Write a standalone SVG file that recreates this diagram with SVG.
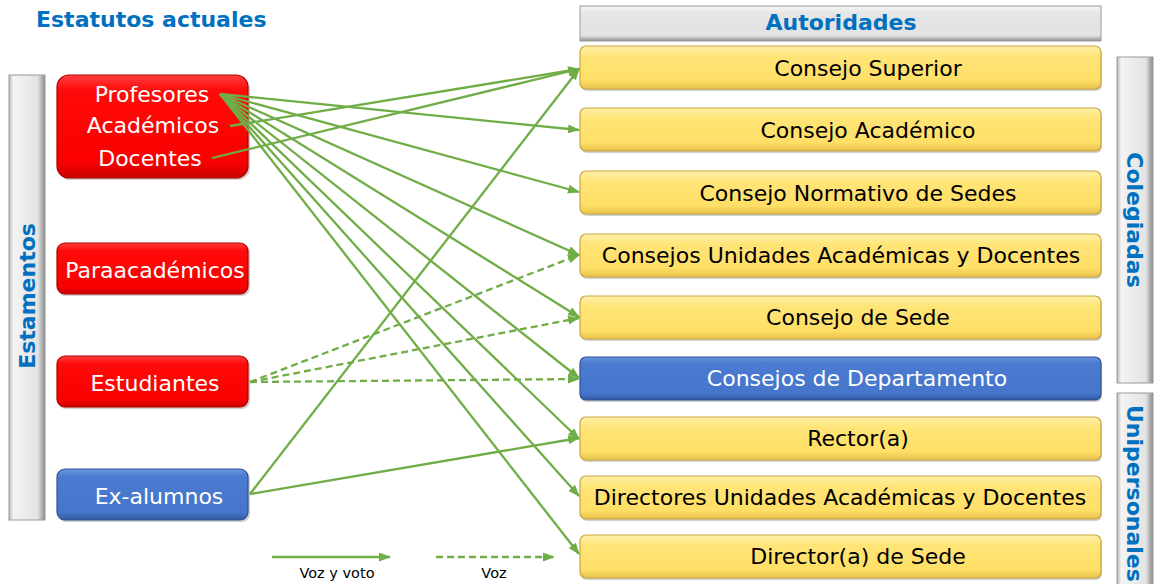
<svg xmlns="http://www.w3.org/2000/svg" width="1156" height="584" viewBox="0 0 1156 584">
<defs>
<linearGradient id="gY" x1="0" y1="0" x2="0" y2="1">
<stop offset="0" stop-color="#FFF0A8"/><stop offset="0.25" stop-color="#FFE477"/><stop offset="0.8" stop-color="#FFDF66"/><stop offset="1" stop-color="#E6C24C"/>
</linearGradient>
<linearGradient id="gR" x1="0" y1="0" x2="0" y2="1">
<stop offset="0" stop-color="#FF4040"/><stop offset="0.15" stop-color="#FF0A0A"/><stop offset="0.85" stop-color="#FA0000"/><stop offset="1" stop-color="#C80000"/>
</linearGradient>
<linearGradient id="gB" x1="0" y1="0" x2="0" y2="1">
<stop offset="0" stop-color="#6E95DD"/><stop offset="0.15" stop-color="#4A7BD0"/><stop offset="0.85" stop-color="#4676CB"/><stop offset="1" stop-color="#35599F"/>
</linearGradient>
<linearGradient id="gV" x1="0" y1="0" x2="1" y2="0">
<stop offset="0" stop-color="#B8B8B8"/><stop offset="0.12" stop-color="#F4F4F4"/><stop offset="0.8" stop-color="#E3E3E3"/><stop offset="1" stop-color="#8A8A8A"/>
</linearGradient>
<linearGradient id="gH" x1="0" y1="0" x2="0" y2="1">
<stop offset="0" stop-color="#F6F6F6"/><stop offset="0.2" stop-color="#E6E6E6"/><stop offset="0.85" stop-color="#E2E2E2"/><stop offset="1" stop-color="#8E8E8E"/>
</linearGradient>
<marker id="ah" markerUnits="userSpaceOnUse" markerWidth="12" markerHeight="9" refX="11" refY="4.5" orient="auto">
<path d="M0,0 L12,4.5 L0,9 z" fill="#70AD47"/>
</marker>
<style>
.ttl{font-family:"DejaVu Sans",Verdana,sans-serif;font-weight:bold;font-size:22px;fill:#0070C0}
.lbl{font-family:"DejaVu Sans",Verdana,sans-serif;font-size:22px;fill:#000}
.wl{font-family:"DejaVu Sans",Verdana,sans-serif;font-size:22px;fill:#fff}
.leg{font-family:"DejaVu Sans",Verdana,sans-serif;font-size:14.5px;fill:#000}
.yb{fill:url(#gY);stroke:#C9A640;stroke-width:1.2}
.rb{fill:url(#gR);stroke:#B00000;stroke-width:1.2}
.bb{fill:url(#gB);stroke:#2F528F;stroke-width:1.2}
.sh{fill:#000;opacity:0.18}
.gv{fill:url(#gV);stroke:#9A9A9A;stroke-width:1}
.gh{fill:url(#gH);stroke:#9A9A9A;stroke-width:1}
.c{stroke:#70AD47;stroke-width:2.3;fill:none;marker-end:url(#ah)}
.d{stroke-dasharray:7 4}
</style>
</defs>
<rect width="1156" height="584" fill="#fff"/>

<text class="ttl" x="36" y="27">Estatutos actuales</text>

<g id="bar-estamentos">
<rect class="gv" x="9" y="75" width="36" height="445"/>
<text class="ttl" transform="translate(35,296) rotate(-90)" text-anchor="middle">Estamentos</text>
</g>

<g id="node-profesores">
<rect class="sh" x="58" y="77" width="192" height="103" rx="12"/>
<rect class="rb" x="57" y="75" width="191" height="103" rx="12"/>
<text class="wl" x="152" y="102" text-anchor="middle">Profesores</text>
<text class="wl" x="153" y="133" text-anchor="middle">Académicos</text>
<text class="wl" x="150" y="166" text-anchor="middle">Docentes</text>
</g>
<g id="node-paraacademicos">
<rect class="sh" x="58" y="245" width="192" height="51" rx="8"/>
<rect class="rb" x="57" y="243" width="191" height="51" rx="8"/>
<text class="wl" x="155" y="278" text-anchor="middle">Paraacadémicos</text>
</g>
<g id="node-estudiantes">
<rect class="sh" x="58" y="358" width="192" height="51" rx="8"/>
<rect class="rb" x="57" y="356" width="191" height="51" rx="8"/>
<text class="wl" x="155" y="391" text-anchor="middle">Estudiantes</text>
</g>
<g id="node-exalumnos">
<rect class="sh" x="58" y="471" width="192" height="51" rx="8"/>
<rect class="bb" x="57" y="469" width="191" height="51" rx="8"/>
<text class="wl" x="159" y="504" text-anchor="middle">Ex-alumnos</text>
</g>

<g id="header-autoridades">
<rect class="gh" x="580" y="6" width="521" height="35"/>
<text class="ttl" x="841" y="30" text-anchor="middle">Autoridades</text>
</g>

<g id="node-consejo-superior">
<rect class="sh" x="581" y="48" width="521" height="43" rx="6"/>
<rect class="yb" x="580" y="46" width="521" height="43" rx="6"/>
<text class="lbl" x="868" y="76" text-anchor="middle">Consejo Superior</text>
</g>
<g id="node-consejo-academico">
<rect class="sh" x="581" y="110" width="521" height="43" rx="6"/>
<rect class="yb" x="580" y="108" width="521" height="43" rx="6"/>
<text class="lbl" x="868" y="138" text-anchor="middle">Consejo Académico</text>
</g>
<g id="node-consejo-normativo">
<rect class="sh" x="581" y="173" width="521" height="43" rx="6"/>
<rect class="yb" x="580" y="171" width="521" height="43" rx="6"/>
<text class="lbl" x="858" y="201" text-anchor="middle">Consejo Normativo de Sedes</text>
</g>
<g id="node-consejos-unidades">
<rect class="sh" x="581" y="236" width="521" height="43" rx="6"/>
<rect class="yb" x="580" y="234" width="521" height="43" rx="6"/>
<text class="lbl" x="841" y="263" text-anchor="middle">Consejos Unidades Académicas y Docentes</text>
</g>
<g id="node-consejo-sede">
<rect class="sh" x="581" y="298" width="521" height="43" rx="6"/>
<rect class="yb" x="580" y="296" width="521" height="43" rx="6"/>
<text class="lbl" x="858" y="325" text-anchor="middle">Consejo de Sede</text>
</g>
<g id="node-consejos-departamento">
<rect class="sh" x="581" y="359" width="521" height="43" rx="6"/>
<rect class="bb" x="580" y="357" width="521" height="43" rx="6"/>
<text class="wl" x="857" y="386" text-anchor="middle">Consejos de Departamento</text>
</g>
<g id="node-rector">
<rect class="sh" x="581" y="419" width="521" height="43" rx="6"/>
<rect class="yb" x="580" y="417" width="521" height="43" rx="6"/>
<text class="lbl" x="858" y="446" text-anchor="middle">Rector(a)</text>
</g>
<g id="node-directores">
<rect class="sh" x="581" y="478" width="521" height="43" rx="6"/>
<rect class="yb" x="580" y="476" width="521" height="43" rx="6"/>
<text class="lbl" x="840" y="505" text-anchor="middle">Directores Unidades Académicas y Docentes</text>
</g>
<g id="node-director-sede">
<rect class="sh" x="581" y="537" width="521" height="43" rx="6"/>
<rect class="yb" x="580" y="535" width="521" height="43" rx="6"/>
<text class="lbl" x="858" y="564" text-anchor="middle">Director(a) de Sede</text>
</g>

<g id="bar-colegiadas">
<rect class="gv" x="1117" y="57" width="36" height="326"/>
<text class="ttl" transform="translate(1127,220) rotate(90)" text-anchor="middle">Colegiadas</text>
</g>
<g id="bar-unipersonales">
<rect class="gv" x="1117" y="393" width="36" height="210"/>
<text class="ttl" transform="translate(1127,405) rotate(90)">Unipersonales</text>
</g>

<g id="connectors">
<line class="c" x1="220" y1="94" x2="579" y2="130"/>
<line class="c" x1="220" y1="94" x2="579" y2="192"/>
<line class="c" x1="220" y1="94" x2="579" y2="255"/>
<line class="c" x1="220" y1="94" x2="579" y2="317"/>
<line class="c" x1="220" y1="94" x2="579" y2="378"/>
<line class="c" x1="220" y1="94" x2="579" y2="439"/>
<line class="c" x1="220" y1="94" x2="579" y2="496"/>
<line class="c" x1="220" y1="94" x2="579" y2="554"/>
<line class="c" x1="230" y1="126" x2="579" y2="69"/>
<line class="c" x1="212" y1="158" x2="579" y2="69"/>
<line class="c" x1="250" y1="494" x2="579" y2="69"/>
<line class="c" x1="250" y1="494" x2="579" y2="438"/>
<line class="c d" x1="250" y1="382" x2="579" y2="255"/>
<line class="c d" x1="250" y1="382" x2="579" y2="318"/>
<line class="c d" x1="250" y1="382" x2="579" y2="379"/>
</g>

<g id="legend">
<line class="c" x1="272" y1="557" x2="390" y2="557"/>
<text class="leg" x="337" y="578" text-anchor="middle">Voz y voto</text>
<line class="c d" x1="436" y1="557" x2="554" y2="557"/>
<text class="leg" x="494" y="578" text-anchor="middle">Voz</text>
</g>
</svg>
